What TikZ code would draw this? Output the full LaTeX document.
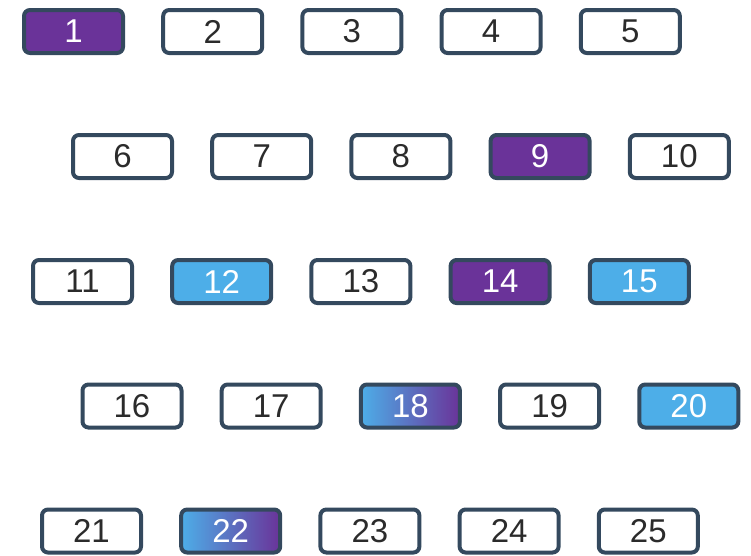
\documentclass[tikz,border=0pt]{standalone}
\usepackage{fontspec}
\setmainfont{Liberation Sans}
\definecolor{edgec}{HTML}{34495E}
\definecolor{purp}{HTML}{6A3399}
\definecolor{skyb}{HTML}{4DAEE8}
\definecolor{ink}{HTML}{2B2B2B}
\tikzset{
  cell/.style={draw=edgec, line width=4pt, rounded corners=6pt, fill=white,
    minimum width=99pt, minimum height=43pt, inner sep=0pt, text=ink,
    font=\fontsize{33}{37}\selectfont},
  hot/.style={cell, fill=purp, text=white},
  cool/.style={cell, fill=skyb, text=white},
  mixed/.style={cell, left color=skyb, right color=purp, text=white}
}
\begin{document}
\begin{tikzpicture}[x=1pt, y=-1pt]
  \useasboundingbox (0,0) rectangle (751,555);
  % row 1
  \node[hot]  (n1) at (73.5,31.5) {1};
  \node[cell] (n2) at (212.7,31.5) {2};
  \node[cell] (n3) at (351.9,31.5) {3};
  \node[cell] (n4) at (491.1,31.5) {4};
  \node[cell] (n5) at (630.3,31.5) {5};
  % row 2
  \node[cell] (n6) at (122.5,156.5) {6};
  \node[cell] (n7) at (261.7,156.5) {7};
  \node[cell] (n8) at (400.9,156.5) {8};
  \node[hot]  (n9) at (540.1,156.5) {9};
  \node[cell] (n10) at (679.3,156.5) {10};
  % row 3
  \node[cell] (n11) at (82.5,281.5) {11};
  \node[cool] (n12) at (221.7,281.5) {12};
  \node[cell] (n13) at (360.9,281.5) {13};
  \node[hot]  (n14) at (500.1,281.5) {14};
  \node[cool] (n15) at (639.3,281.5) {15};
  % row 4
  \node[cell]  (n16) at (132,406) {16};
  \node[cell]  (n17) at (271.2,406) {17};
  \node[mixed] (n18) at (410.4,406) {18};
  \node[cell]  (n19) at (549.6,406) {19};
  \node[cool]  (n20) at (688.8,406) {20};
  % row 5
  \node[cell]  (n21) at (91.5,531) {21};
  \node[mixed] (n22) at (230.7,531) {22};
  \node[cell]  (n23) at (369.9,531) {23};
  \node[cell]  (n24) at (509.1,531) {24};
  \node[cell]  (n25) at (648.3,531) {25};
\end{tikzpicture}
\end{document}
